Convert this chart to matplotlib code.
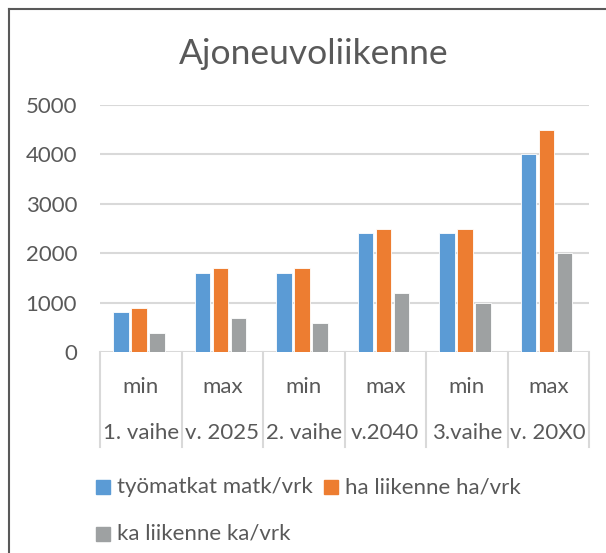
import matplotlib.pyplot as plt
from matplotlib.patches import Rectangle

plt.rcParams['font.family'] = ['Lato', 'DejaVu Sans']

title = "Ajoneuvoliikenne"
top_labels = ["min", "max", "min", "max", "min", "max"]
group_labels = ["1. vaihe", "v. 2025", "2. vaihe", "v.2040", "3.vaihe", "v. 20X0"]
series_names = ["työmatkat matk/vrk", "ha liikenne ha/vrk", "ka liikenne ka/vrk"]
tyomatkat = [800, 1600, 1600, 2400, 2400, 4000]
ha_liikenne = [900, 1700, 1700, 2500, 2500, 4500]
ka_liikenne = [390, 690, 590, 1200, 1000, 2000]
yticks = [0, 1000, 2000, 3000, 4000, 5000]

colors = ["#5B9BD5", "#ED7D31", "#9EA1A2"]
txt = "#595959"
grid = "#D9D9D9"
fs = 16

W, H = 606, 553
fig = plt.figure(figsize=(W / 100, H / 100), dpi=100)
ax = fig.add_axes([100 / W, 1 - 352 / H, 489 / W, 247 / H])

x = list(range(len(top_labels)))
step = 0.222
for i, (vals, c) in enumerate(zip([tyomatkat, ha_liikenne, ka_liikenne], colors)):
    ax.bar([xi + (i - 1) * step - 0.02 for xi in x], vals, width=0.19, color=c,
           edgecolor="white", linewidth=0.6, zorder=3)

ax.set_xlim(-0.5, len(x) - 0.5)
ax.set_ylim(0, 5000)
ax.set_yticks(yticks)
ax.set_xticks([])
ax.yaxis.grid(True, color=grid, linewidth=1.5, zorder=0)
for s in ax.spines.values():
    s.set_visible(False)
ax.tick_params(axis="y", length=0, pad=16.5, labelsize=fs, labelcolor=txt)

# multi-level category axis
tr = ax.get_xaxis_transform()
for b in range(len(x) + 1):
    ax.plot([b - 0.5, b - 0.5], [0, -0.385], transform=tr, color=grid,
            linewidth=1.5, clip_on=False)
for xi in x:
    ax.text(xi, -0.142, top_labels[xi], transform=tr, ha="center", va="center",
            fontsize=fs, color=txt)
    ax.text(xi, -0.328, group_labels[xi], transform=tr, ha="center", va="center",
            fontsize=fs, color=txt)

fig.text(314 / W, 1 - 54 / H, title, ha="center", va="center", fontsize=25.5, color=txt)

# legend
legend_pos = [(96, 487), (324, 487), (96, 534)]
for (lx, ly), name, c in zip(legend_pos, series_names, colors):
    fig.patches.append(Rectangle((lx / W, 1 - (ly + 7) / H), 14 / W, 14 / H,
                                 transform=fig.transFigure, color=c))
    fig.text((lx + 21) / W, 1 - ly / H, name, ha="left", va="center",
             fontsize=fs, color=txt)

# chart frame (partially cropped)
fig.add_artist(plt.Line2D([9 / W, 9 / W], [0, 1 - 9 / H], transform=fig.transFigure,
                          color="#595959", linewidth=1.5))
fig.add_artist(plt.Line2D([9 / W, 1], [1 - 9 / H, 1 - 9 / H], transform=fig.transFigure,
                          color="#595959", linewidth=1.5))

fig.savefig("out.png", dpi=100)
